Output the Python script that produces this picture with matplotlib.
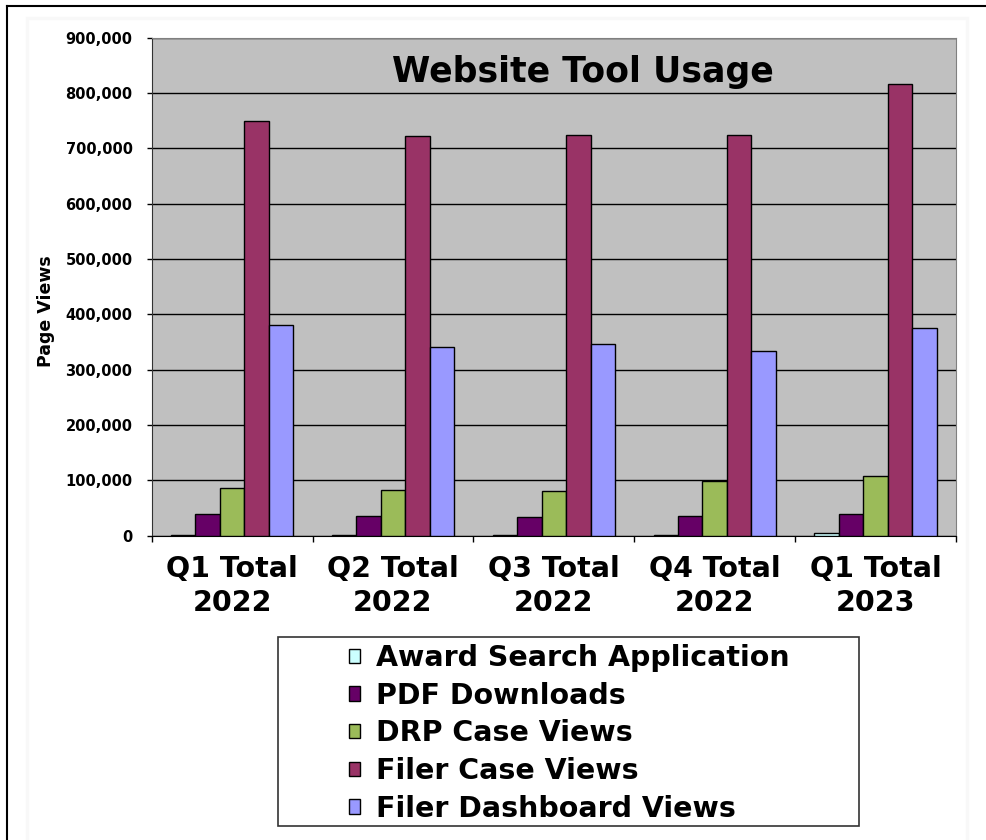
import matplotlib.pyplot as plt
import numpy as np
from matplotlib.patches import Rectangle
from matplotlib.lines import Line2D

categories = ['Q1 Total\n2022', 'Q2 Total\n2022', 'Q3 Total\n2022', 'Q4 Total\n2022', 'Q1 Total\n2023']
series_names = ['Award Search Application', 'PDF Downloads', 'DRP Case Views',
                'Filer Case Views', 'Filer Dashboard Views']
award = [1500, 1500, 1500, 1500, 4000]
pdf = [39000, 36000, 34000, 36000, 39000]
drp = [86000, 83000, 81000, 99000, 108000]
filer_case = [750000, 722000, 724000, 724000, 816000]
dashboard = [381000, 341000, 346000, 334000, 375000]
colors = ['#CCFFFF', '#660066', '#9BBB59', '#993366', '#9999FF']

plt.rcParams['font.family'] = ['DejaVu Sans']
plt.rcParams['font.weight'] = 'bold'

W, H = 987, 840
fig = plt.figure(figsize=(W / 100, H / 100), dpi=100)

# page frame (black top/left edge + faint chart-area border)
fig.add_artist(Line2D([7 / W, 985 / W], [1 - 6 / H, 1 - 6 / H], color='black', lw=1.5))
fig.add_artist(Line2D([7 / W, 7 / W], [0, 1 - 6 / H], color='black', lw=1.5))
fig.add_artist(Rectangle((27 / W, -0.05), 940 / W, 1.05 - 18.5 / H, fill=False,
                         edgecolor='#f8f8f8', lw=2.5))

left, right, top, bottom = 151.7, 956, 37.7, 535.7
ax = fig.add_axes([left / W, 1 - bottom / H, (right - left) / W, (bottom - top) / H])
ax.set_facecolor('#C0C0C0')

x = np.arange(len(categories))
bw = 0.152
all_series = [award, pdf, drp, filer_case, dashboard]
for i, (vals, name, c) in enumerate(zip(all_series, series_names, colors)):
    ax.bar(x + (i - 2) * bw, vals, bw, color=c, edgecolor='black', linewidth=1, label=name, zorder=3)

ax.set_xlim(-0.5, 4.5)
ax.set_ylim(0, 900000)
ax.set_yticks(np.arange(0, 900001, 100000))
ax.set_yticklabels([f'{v:,}' for v in range(0, 900001, 100000)], fontsize=10.5, fontweight='bold')
ax.yaxis.grid(True, color='black', linewidth=1)
ax.set_axisbelow(True)
ax.tick_params(axis='y', length=3.8, width=1, pad=10, direction='out')

ax.set_xticks(x)
ax.set_xticklabels(categories, fontsize=20.5, fontweight='bold', linespacing=1.25)
ax.tick_params(axis='x', which='major', length=0, pad=14)
ax.set_xticks(np.arange(-0.5, 5, 1), minor=True)
ax.tick_params(axis='x', which='minor', length=4.5, width=1, direction='out')

for s in ['top', 'right']:
    ax.spines[s].set_color('#808080')
ax.spines['left'].set_color('#333333')
ax.spines['bottom'].set_color('black')

ax.set_ylabel('Page Views', fontsize=12.5, fontweight='bold', va='center')
ax.yaxis.set_label_coords(-0.1314, 0.451)

ax.text(0.536, 0.911, 'Website Tool Usage', transform=ax.transAxes, ha='center',
        va='baseline', fontsize=25, fontweight='bold')

# legend box
fig.add_artist(Rectangle((278 / W, 1 - 826 / H), 581 / W, 189 / H, fill=False,
                         edgecolor='#333333', lw=1.2))
handles, labels = ax.get_legend_handles_labels()
fig.legend(handles, labels, loc='upper left', bbox_to_anchor=(349 / W, 1 - 644 / H),
           frameon=False, handlelength=0.4, handleheight=0.4,
           handletextpad=0.55, labelspacing=0.34, borderpad=0, borderaxespad=0,
           prop={'weight': 'bold', 'size': 20.5})

fig.savefig('out.png', dpi=100)
